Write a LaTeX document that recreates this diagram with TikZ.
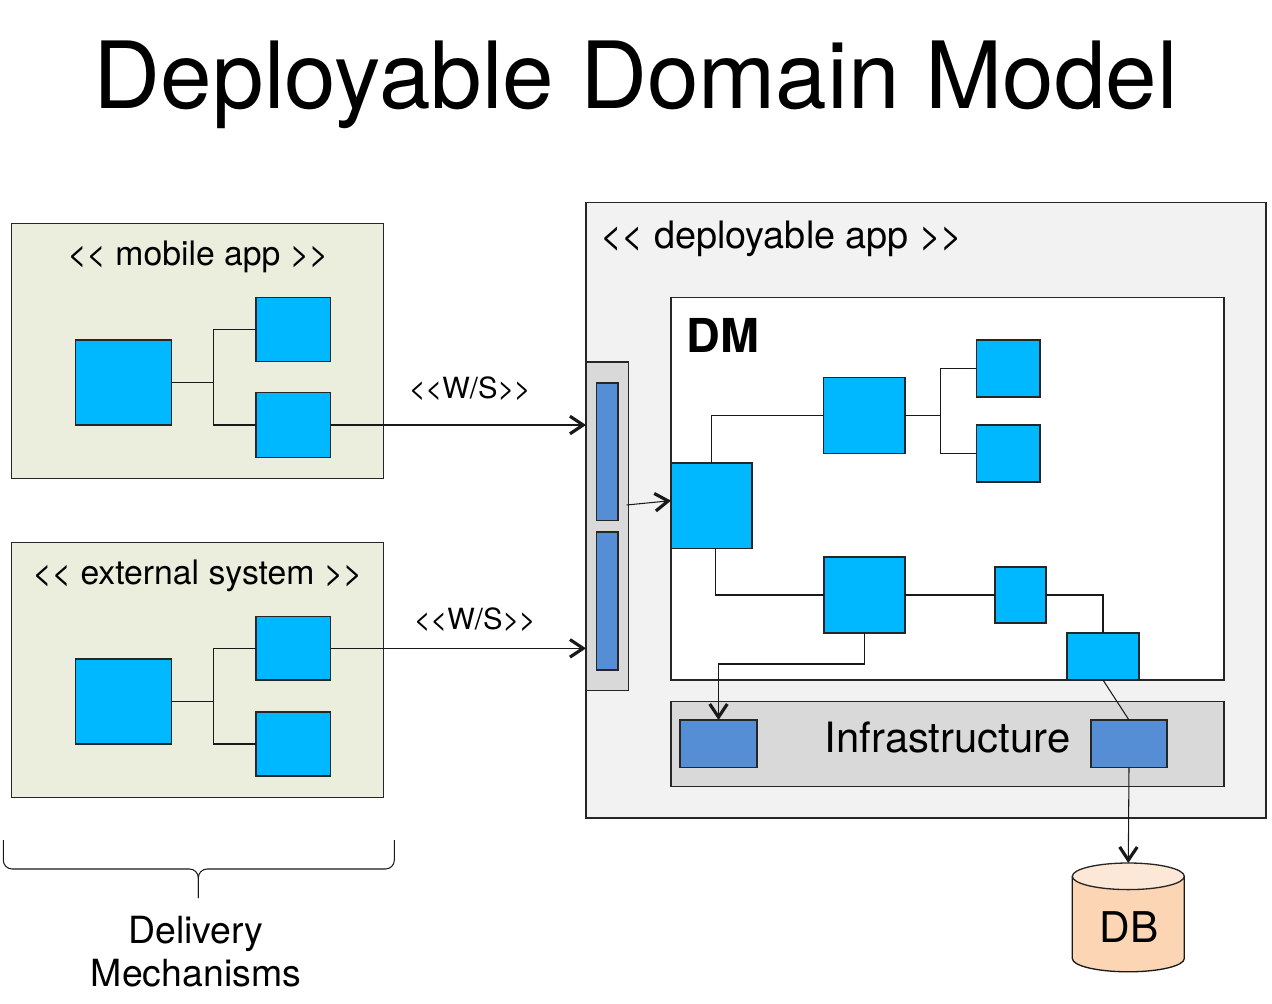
\documentclass[tikz,border=0pt]{standalone}
\usepackage{fontspec}
\setmainfont{TeX Gyre Heros}
\usetikzlibrary{arrows.meta,calc}
\definecolor{appgreen}{HTML}{EBEEDD}
\definecolor{appgray}{HTML}{F2F2F2}
\definecolor{bargray}{HTML}{D9D9D9}
\definecolor{cyanbox}{HTML}{00B8FF}
\definecolor{midblue}{HTML}{558ED5}
\definecolor{dbbody}{HTML}{FCD5B5}
\definecolor{dbtopc}{HTML}{FDE7D7}
\newcommand\rn[6]{\node[#1, anchor=north west, minimum width={(#5-#3)*0.02cm}, minimum height={(#6-#4)*0.02cm}] (#2) at (#3,#4) {};}
\newcommand\fsz[1]{\fontsize{#1}{#1}\selectfont}
\newcommand\myopen{<\kern-0.02em<}
\newcommand\myclose{>\kern-0.02em>}
\begin{document}
\begin{tikzpicture}[x=0.02cm,y=-0.02cm,
  frame/.style={draw=black!85, line width=0.75pt, inner sep=0pt, outer sep=0pt},
  outerbox/.style={frame, fill=appgreen},
  appbox/.style={frame, fill=appgray},
  graybox/.style={frame, fill=bargray},
  whitebox/.style={frame, fill=white},
  comp/.style={frame, fill=cyanbox},
  infra/.style={frame, fill=midblue},
  conn/.style={draw=black!90, line width=0.6pt},
  arr/.style={conn, -{Straight Barb[length=7.5pt,width=10pt,line width=1.8pt]}},
  lbl/.style={inner sep=0pt, anchor=base, text=black}]
\useasboundingbox (0,0) rectangle (1272,1004);

% title
\node[lbl] (title) at (636,108) {\fsz{52.8}Deployable Domain Model};

% mobile app
\rn{outerbox}{mob}{11.5}{223.3}{383.5}{478.3}
\node[lbl] (mobl) at (198,265) {\fsz{19.2}\myopen{} mobile app \myclose};
\rn{comp}{m1}{75.3}{340}{171.3}{425}
\rn{comp}{m2}{256}{297.3}{330.7}{361.7}
\rn{comp}{m3}{256}{392.7}{330.7}{457.3}
\coordinate (mj) at (213.3,382.5);
\draw[conn] (m1.east) -- (mj);
\draw[conn] (m2.west) -| (mj) |- (m3.west);

% external system
\rn{outerbox}{ext}{11.5}{542.3}{383.5}{797.3}
\node[lbl] (extl) at (197.5,584) {\fsz{19.2}\myopen{} external system \myclose};
\rn{comp}{e1}{75.3}{659}{171.3}{744}
\rn{comp}{e2}{256}{616.7}{330.7}{680}
\rn{comp}{e3}{256}{712}{330.7}{776}
\coordinate (ej) at (213.3,701.5);
\draw[conn] (e1.east) -- (ej);
\draw[conn] (e2.west) -| (ej) |- (e3.west);

% deployable app
\rn{appbox}{app}{586}{202.5}{1266}{818}
\node[lbl, anchor=base west] (appl) at (600,248.5) {\fsz{21.5}\myopen{} deployable app \myclose};

% gateway
\rn{graybox}{gw}{586}{362}{628.5}{690.5}
\rn{infra}{g1}{596.5}{383}{618}{520.5}
\rn{infra}{g2}{596.5}{532}{618}{670}

% DM
\rn{whitebox}{dm}{671}{297.5}{1224}{680}
\node[lbl, anchor=base west] (dml) at (686.5,352.3) {\fsz{26.6}\bfseries DM};
\rn{comp}{A}{671}{463}{752}{548.3}
\rn{comp}{B}{823.3}{377.7}{905}{453.7}
\rn{comp}{C1}{976.3}{340}{1040}{397}
\rn{comp}{C2}{976.3}{425}{1040}{482}
\rn{comp}{D}{824}{557}{905}{633}
\rn{comp}{E}{995}{567}{1046}{623}
\rn{comp}{F}{1067}{633}{1139}{680}

% infrastructure
\rn{graybox}{inf}{671}{701.5}{1224}{786.5}
\node[lbl] (infl) at (947.5,752) {\fsz{23.8}Infrastructure};
\rn{infra}{I1}{680}{720}{757}{767.5}
\rn{infra}{I2}{1091}{720}{1167}{767.5}

% DB cylinder
\node[inner sep=0pt, minimum width={113*0.02cm}, minimum height={109*0.02cm}, anchor=north] (db) at (1128.3,863) {};
\fill[dbbody] (1072.3,876.3) -- (1072.3,958.5) arc[start angle=180, end angle=0, x radius=56, y radius=13.3] -- (1184.3,876.3) -- cycle;
\draw[conn, line width=0.75pt] (1072.3,876.3) -- (1072.3,958.5) arc[start angle=180, end angle=0, x radius=56, y radius=13.3] -- (1184.3,876.3);
\filldraw[fill=dbtopc, draw=black!85, line width=0.75pt] (1128.3,876.3) ellipse[x radius=56, y radius=13.3];
\node[lbl] (dbl) at (1129,942.3) {\fsz{24.1}DB};

% DM connectors
\draw[conn] (A.north -| 711.3,0) |- (B.west);
\coordinate (bj) at (940.7,415.7);
\draw[conn] (B.east) -- (bj);
\draw[conn] (C1.west) -| (bj) |- (C2.west);
\draw[conn] (A.south -| 715.5,0) |- (D.west);
\draw[conn] (D.east) -- (E.west);
\draw[conn] (E.east) -| (F.north);
\coordinate (dk) at (864.5,664);
\draw[arr] (D.south) -- (dk) -| (I1.north);
\draw[conn] (F.south) -- (I2.north);
\draw[arr] (I2.south) -- (db.north);

% W/S arrows
\draw[arr] (m3.east) -- (m3.east -| gw.west);
\node[lbl] (ws1) at (470,398) {\fsz{16.6}\myopen W/S\myclose};
\draw[arr] (e2.east) -- (e2.east -| gw.west);
\node[lbl] (ws2) at (475,629) {\fsz{16.6}\myopen W/S\myclose};

% gateway to DM
\coordinate (gs) at (626.7,505);
\draw[arr] (gs) -- ([yshift=0.1cm]A.west);

% brace
\draw[conn, rounded corners=5pt] (3.3,840) -- (3.3,869) -- (198.3,869) -- (198.3,898);
\draw[conn, rounded corners=5pt] (394.3,840) -- (394.3,869) -- (198.3,869) -- (198.3,898);
\node[lbl] (del1) at (196,943) {\fsz{21.3}Delivery};
\node[lbl] (del2) at (196,986) {\fsz{21.3}Mechanisms};
\end{tikzpicture}
\end{document}
